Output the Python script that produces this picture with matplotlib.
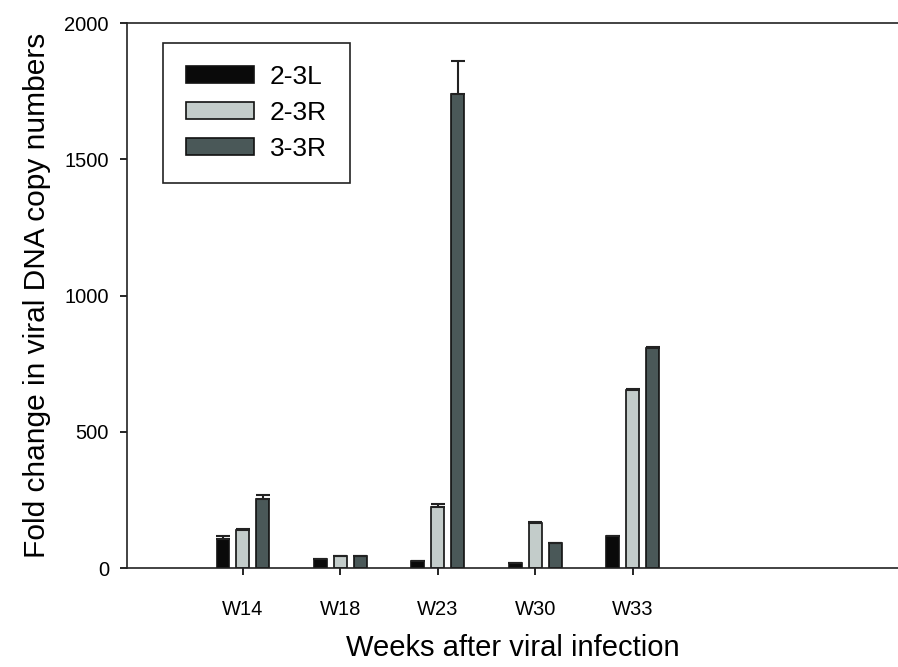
import numpy as np
import matplotlib.pyplot as plt

weeks = ["W14", "W18", "W23", "W30", "W33"]
series = ["2-3L", "2-3R", "3-3R"]
vals_23L = [106, 32, 27, 20, 119]
vals_23R = [138, 44, 224, 164, 653]
vals_33R = [253, 44, 1739, 93, 807]
err_23L = [11, 0, 0, 0, 0]
err_23R = [5, 0, 11, 4, 4]
err_33R = [14, 0, 123, 0, 3]
colors = ["#0a0a0a", "#c3ccca", "#4a5858"]

plt.rcParams['font.family'] = ['Liberation Sans', 'DejaVu Sans']

fig = plt.figure(figsize=(8.98, 6.67), dpi=100)
ax = fig.add_axes([0.1414, 0.1484, 0.8586, 0.8171])

x = np.arange(len(weeks))
w = 0.133
step = 0.205
vals = [vals_23L, vals_23R, vals_33R]
errs = [err_23L, err_23R, err_33R]
for i in range(3):
    e = np.array(errs[i])
    ax.bar(x + (i - 1) * step, vals[i], w, color=colors[i], edgecolor="#111111",
           linewidth=1.2, label=series[i],
           yerr=[np.zeros_like(e), e], capsize=5,
           error_kw=dict(ecolor="#222222", elinewidth=1.5, capthick=1.5))

ax.set_xlim(-1.19, 6.72)
ax.set_ylim(0, 2000)
ax.set_yticks([0, 500, 1000, 1500, 2000])
ax.set_xticks(x)
ax.set_xticklabels(weeks)
ax.spines['right'].set_visible(False)
for s in ['left', 'top', 'bottom']:
    ax.spines[s].set_linewidth(1.2)
    ax.spines[s].set_color("#222222")
ax.tick_params(direction='out', length=5, width=1.2, labelsize=14.5, pad=8)
ax.tick_params(axis='x', pad=18)

ax.set_xlabel("Weeks after viral infection", fontsize=21, labelpad=11)
ax.set_ylabel("Fold change in viral DNA copy numbers", fontsize=21.5, labelpad=10)

leg = ax.legend(loc='upper left', bbox_to_anchor=(0.047, 0.964), fontsize=19,
                handlelength=2.6, handleheight=0.6, handletextpad=0.6,
                borderpad=0.85, borderaxespad=0, labelspacing=0.45,
                fancybox=False, framealpha=1, edgecolor="#222222")
leg.get_frame().set_linewidth(1.2)

plt.savefig("out.png", dpi=100)
